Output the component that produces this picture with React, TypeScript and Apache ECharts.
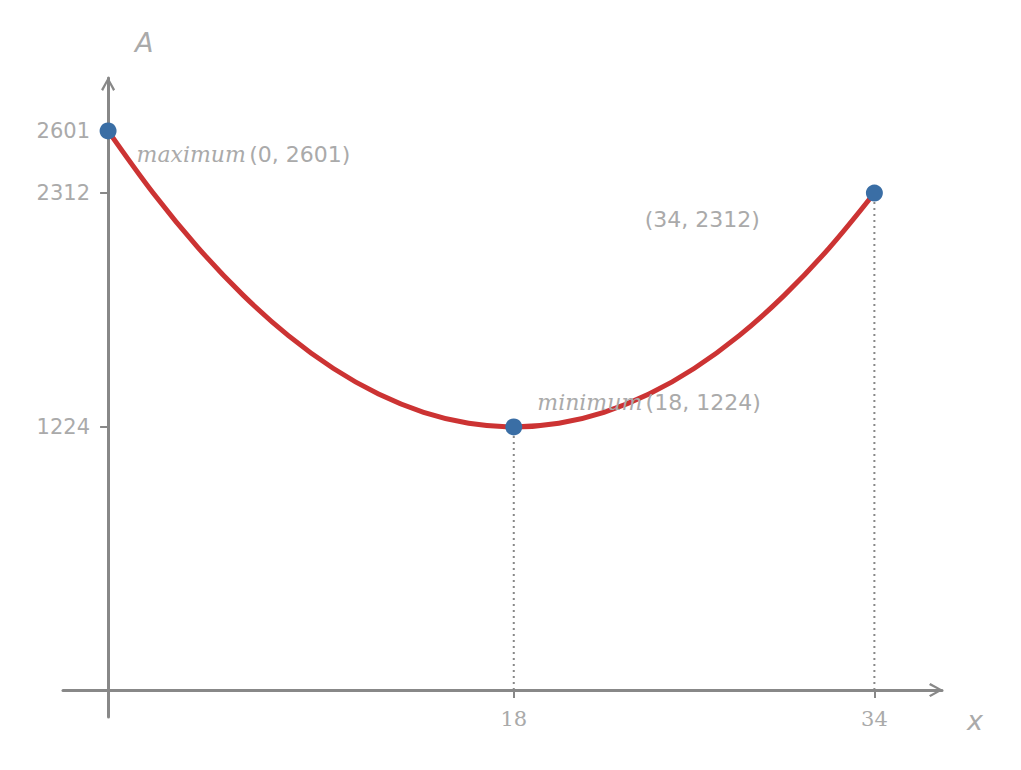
import React, { useEffect, useRef } from "react";
import * as echarts from "echarts";

// Curve A(x) (every 2 units of x)
const curveX = [0, 2, 4, 6, 8, 10, 12, 14, 16, 18, 20, 22, 24, 26, 28, 30, 32, 34];
const curveA = [2601, 2312, 2057, 1836, 1649, 1496, 1377, 1292, 1241, 1224, 1241, 1292, 1377, 1496, 1649, 1836, 2057, 2312];

// Marked points
const keyX = [0, 18, 34];
const keyA = [2601, 1224, 2312];
const keyNames = ["maximum", "minimum", ""];

// Tick values
const xTicks = [18, 34];
const yTicks = [1224, 2312, 2601];

const AXIS = "#888888";
const TXT = "#aaaaaa";
const SANS = "DejaVu Sans";
const SERIF = "DejaVu Serif";

const chevron = "path://M5,0 L10,9 L8.6,10 L5,3 L1.4,10 L0,9 Z";

export default function App() {
  const ref = useRef<HTMLDivElement>(null);
  useEffect(() => {
    document.body.style.margin = "0";
    const chart = echarts.init(ref.current!, null, { renderer: "svg" });

    const labelCfg = [
      { position: "right", distance: 5, offset: [15, 24], align: "left" },
      { position: "right", distance: 5, offset: [10, -24], align: "left" },
      { position: "left", distance: 5, offset: [-101, 26], align: "right" },
    ];

    const keyData = keyX.map((x, i) => ({
      value: [x, keyA[i]],
      label: {
        show: true,
        position: labelCfg[i].position,
        distance: labelCfg[i].distance,
        offset: labelCfg[i].offset,
        align: labelCfg[i].align,
        formatter: keyNames[i]
          ? `{it|${keyNames[i]}} {n|(${x}, ${keyA[i]})}`
          : `{n|(${x}, ${keyA[i]})}`,
        rich: {
          it: { fontFamily: SERIF, fontStyle: "italic", fontSize: 22, color: TXT },
          n: { fontFamily: SANS, fontSize: 22, color: TXT },
        },
      },
    }));

    const dropSeries = keyX
      .map((x, i) => ({ x, a: keyA[i] }))
      .filter((p) => xTicks.includes(p.x))
      .map((p) => ({
        type: "line",
        data: [
          [p.x, 0],
          [p.x, p.a],
        ],
        symbol: "none",
        lineStyle: { color: AXIS, width: 2, type: [2, 4] },
        z: 1,
        silent: true,
      }));

    chart.setOption({
      animation: false,
      backgroundColor: "#ffffff",
      grid: { left: 63, right: 79, top: 78, bottom: 53, outerBoundsMode: "none", containLabel: false },
      xAxis: {
        type: "value",
        min: -2,
        max: 37,
        splitLine: { show: false },
        axisLine: {
          show: true,
          onZero: true,
          lineStyle: { color: AXIS, width: 3 },
          symbol: ["none", chevron],
          symbolSize: [15, 14],
          symbolOffset: [0, -6],
        },
        axisTick: { show: true, customValues: xTicks, length: 8, lineStyle: { color: AXIS, width: 2 } },
        axisLabel: {
          customValues: xTicks,
          formatter: (v: number) => String(v),
          margin: -9,
          color: TXT,
          fontFamily: SERIF,
          fontSize: 21,
        },
      },
      yAxis: {
        type: "value",
        min: -125,
        max: 2847,
        splitLine: { show: false },
        axisLine: {
          show: true,
          onZero: true,
          lineStyle: { color: AXIS, width: 3 },
          symbol: ["none", chevron],
          symbolSize: [15, 14],
          symbolOffset: [0, -6],
        },
        axisTick: { show: true, customValues: yTicks, length: 8, lineStyle: { color: AXIS, width: 2 } },
        axisLabel: {
          customValues: yTicks,
          formatter: (v: number) => String(v),
          margin: -27,
          color: TXT,
          fontFamily: SANS,
          fontSize: 21,
        },
      },
      graphic: [
        {
          type: "text",
          left: 135,
          top: 29,
          style: { text: "A", fontFamily: SANS, fontStyle: "italic", fontSize: 27, fill: TXT },
        },
        {
          type: "text",
          left: 967,
          top: 707,
          style: { text: "x", fontFamily: SANS, fontStyle: "italic", fontSize: 27, fill: TXT },
        },
      ],
      series: [
        ...dropSeries,
        {
          type: "line",
          data: curveX.map((x, i) => [x, curveA[i]]),
          smooth: 0.35,
          symbol: "none",
          lineStyle: { color: "#cc3333", width: 5 },
          clip: false,
          z: 2,
        },
        {
          type: "scatter",
          data: keyData,
          symbolSize: 17,
          itemStyle: { color: "#3a6ea5", opacity: 1 },
          clip: false,
          z: 5,
        },
      ],
    });
    return () => chart.dispose();
  }, []);
  return <div ref={ref} style={{ width: 1021, height: 770 }} />;
}
